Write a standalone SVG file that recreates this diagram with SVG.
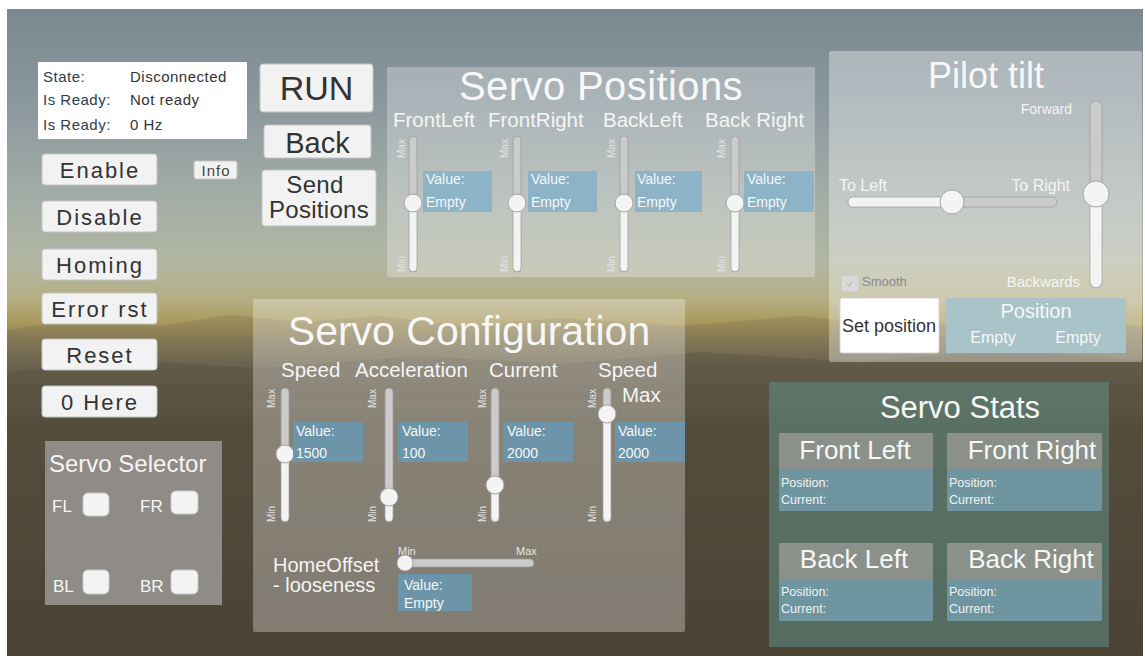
<svg xmlns="http://www.w3.org/2000/svg" width="1145" height="657" viewBox="0 0 1145 657">
<defs>
<linearGradient id="sky" x1="0" y1="0" x2="0" y2="1">
<stop offset="0" stop-color="#7b8891"/>
<stop offset="0.14" stop-color="#8a979c"/>
<stop offset="0.29" stop-color="#a3ada7"/>
<stop offset="0.39" stop-color="#b1b6a2"/>
<stop offset="0.45" stop-color="#b5ae83"/>
<stop offset="0.485" stop-color="#a9985a"/>
<stop offset="0.515" stop-color="#877b56"/>
<stop offset="0.55" stop-color="#6b6350"/>
<stop offset="0.64" stop-color="#554d3c"/>
<stop offset="1" stop-color="#4a4233"/>
</linearGradient>
<style>
text{font-family:"Liberation Sans",Arial,sans-serif}
.btn{fill:#f2f2f2;stroke:#c4c4c4;stroke-width:1}
.bt{fill:#333;font-size:22px;letter-spacing:2px;text-anchor:middle}
.title{fill:#f7f7f7;text-anchor:middle}
.lbl{fill:#f5f5f5;font-size:20.5px}
.val{fill:#f7f7f7;font-size:14px}
.tiny{fill:#e4e4e4;font-size:10px}
.track{fill:#cbcbcb;stroke:#9c9c9c;stroke-width:0.8}
.fillp{fill:#f3f3f3}
.knob{fill:#f4f4f4;stroke:#a5a5a5;stroke-width:1}
.vbox1{fill:#8db4c6}
.vbox2{fill:#6c95a9}
.info{fill:#2c3e50;font-size:15px;letter-spacing:0.5px}
.infov{fill:#333;font-size:15px;letter-spacing:0.5px}
.chk{fill:#f3f3f3;stroke:#c8c8c8;stroke-width:1}
.sel{fill:#f5f5f5;font-size:17px}
.hdr{fill:#8b908a}
.body{fill:#6e95a0}
.st{fill:#f2f2f2;font-size:12.5px}
.sth{fill:#f7f7f7;font-size:26px;text-anchor:middle}
</style>
</defs>

<rect x="0" y="0" width="1145" height="657" fill="#ffffff"/>
<g id="background">
<rect x="7" y="9" width="1136" height="647" fill="url(#sky)"/>
<polygon points="7,330 90,318 160,326 230,315 300,322 380,316 460,326 560,318 680,326 800,316 900,326 1000,318 1143,326 1143,380 7,380" fill="#6b6350" opacity="0.25"/>
<polygon points="7,372 120,360 260,368 420,356 560,364 700,352 860,362 1000,350 1143,360 1143,400 7,400" fill="#4f4838" opacity="0.3"/>
</g>

<g id="status-box">
<rect x="38" y="62" width="209" height="77" fill="#ffffff"/>
<text class="info" x="43" y="82">State:</text>
<text class="infov" x="130" y="82">Disconnected</text>
<text class="info" x="43" y="105">Is Ready:</text>
<text class="infov" x="130" y="105">Not ready</text>
<text class="info" x="43" y="130">Is Ready:</text>
<text class="infov" x="130" y="130">0 Hz</text>
</g>

<g id="btn-run">
<rect class="btn" x="260" y="64" width="113" height="48" rx="3"/>
<text x="316.5" y="100" style="fill:#333;font-size:34px;text-anchor:middle">RUN</text>
</g>
<g id="btn-back">
<rect class="btn" x="264" y="125" width="107" height="33" rx="3"/>
<text x="317.5" y="153" style="fill:#333;font-size:29px;text-anchor:middle">Back</text>
</g>
<g id="btn-send">
<rect class="btn" x="262" y="170" width="114" height="56" rx="3"/>
<text x="315" y="193" style="fill:#333;font-size:24px;letter-spacing:0.3px;text-anchor:middle">Send</text>
<text x="319" y="218" style="fill:#333;font-size:24px;letter-spacing:0.3px;text-anchor:middle">Positions</text>
</g>

<g id="btn-enable">
<rect class="btn" x="42" y="154" width="115" height="31" rx="3"/>
<text class="bt" x="100" y="178">Enable</text>
</g>
<g id="btn-info">
<rect class="btn" x="194" y="161" width="43" height="18" rx="2"/>
<text x="216" y="176" style="fill:#444;font-size:15px;letter-spacing:1px;text-anchor:middle">Info</text>
</g>
<g id="btn-disable">
<rect class="btn" x="42" y="201" width="115" height="31" rx="3"/>
<text class="bt" x="100" y="225">Disable</text>
</g>
<g id="btn-homing">
<rect class="btn" x="42" y="249" width="115" height="31" rx="3"/>
<text class="bt" x="100" y="273">Homing</text>
</g>
<g id="btn-errorrst">
<rect class="btn" x="42" y="293" width="115" height="31" rx="3"/>
<text class="bt" x="100" y="317">Error rst</text>
</g>
<g id="btn-reset">
<rect class="btn" x="42" y="339" width="115" height="31" rx="3"/>
<text class="bt" x="100" y="363">Reset</text>
</g>
<g id="btn-zerohere">
<rect class="btn" x="42" y="386" width="115" height="31" rx="3"/>
<text class="bt" x="100" y="410">0 Here</text>
</g>

<g id="servo-selector">
<rect x="45" y="441" width="177" height="164" fill="#8f8c87"/>
<text x="49" y="472" style="fill:#f5f5f5;font-size:24px">Servo Selector</text>
<text class="sel" x="52" y="512">FL</text>
<rect class="chk" x="83" y="493" width="26" height="23" rx="5"/>
<text class="sel" x="140" y="512">FR</text>
<rect class="chk" x="171" y="491" width="27" height="23" rx="5"/>
<text class="sel" x="53" y="592">BL</text>
<rect class="chk" x="83" y="570" width="26" height="24" rx="5"/>
<text class="sel" x="140" y="592">BR</text>
<rect class="chk" x="171" y="570" width="27" height="24" rx="5"/>
</g>

<g id="servo-positions">
<rect x="387" y="67" width="428" height="210" rx="2" fill="#ffffff" fill-opacity="0.28"/>
<text class="title" x="601" y="100" style="font-size:40px;letter-spacing:0.4px">Servo Positions</text>
<text class="lbl" x="393" y="127">FrontLeft</text>
<text class="lbl" x="488" y="127">FrontRight</text>
<text class="lbl" x="603" y="127">BackLeft</text>
<text class="lbl" x="705" y="127">Back Right</text>
<g id="sp-frontleft">
<rect class="track" x="409" y="136" width="8" height="136" rx="4"/>
<rect class="fillp" x="409.5" y="203" width="7" height="68" rx="3.5"/>
<circle class="knob" cx="413" cy="203" r="9"/>
<text class="tiny" transform="translate(405,158) rotate(-90)">Max</text>
<text class="tiny" transform="translate(405,272) rotate(-90)">Min</text>
<rect class="vbox1" x="423" y="171" width="69" height="41"/>
<text class="val" x="426" y="184">Value:</text>
<text class="val" x="426" y="207">Empty</text>
</g>
<g id="sp-frontright">
<rect class="track" x="513" y="136" width="8" height="136" rx="4"/>
<rect class="fillp" x="513.5" y="203" width="7" height="68" rx="3.5"/>
<circle class="knob" cx="517" cy="203" r="9"/>
<text class="tiny" transform="translate(508,158) rotate(-90)">Max</text>
<text class="tiny" transform="translate(508,272) rotate(-90)">Min</text>
<rect class="vbox1" x="528" y="171" width="69" height="41"/>
<text class="val" x="531" y="184">Value:</text>
<text class="val" x="531" y="207">Empty</text>
</g>
<g id="sp-backleft">
<rect class="track" x="620" y="136" width="8" height="136" rx="4"/>
<rect class="fillp" x="620.5" y="203" width="7" height="68" rx="3.5"/>
<circle class="knob" cx="624" cy="203" r="9"/>
<text class="tiny" transform="translate(615,158) rotate(-90)">Max</text>
<text class="tiny" transform="translate(615,272) rotate(-90)">Min</text>
<rect class="vbox1" x="635" y="171" width="67" height="41"/>
<text class="val" x="637" y="184">Value:</text>
<text class="val" x="637" y="207">Empty</text>
</g>
<g id="sp-backright">
<rect class="track" x="731" y="136" width="8" height="136" rx="4"/>
<rect class="fillp" x="731.5" y="203" width="7" height="68" rx="3.5"/>
<circle class="knob" cx="735" cy="203" r="9"/>
<text class="tiny" transform="translate(725,158) rotate(-90)">Max</text>
<text class="tiny" transform="translate(725,272) rotate(-90)">Min</text>
<rect class="vbox1" x="744" y="171" width="70" height="41"/>
<text class="val" x="747" y="184">Value:</text>
<text class="val" x="747" y="207">Empty</text>
</g>
</g>

<g id="pilot-tilt">
<rect x="829" y="51" width="313" height="311" rx="2" fill="#ffffff" fill-opacity="0.35"/>
<text class="title" x="986" y="88" style="font-size:36px">Pilot tilt</text>
<text x="1072" y="114" style="fill:#f5f5f5;font-size:14px;text-anchor:end">Forward</text>
<rect class="track" x="1090" y="101" width="12" height="187" rx="6"/>
<rect class="fillp" x="1090.5" y="194" width="11" height="93" rx="5.5"/>
<circle class="knob" cx="1096" cy="194" r="13"/>
<text x="839" y="191" style="fill:#f5f5f5;font-size:16px">To Left</text>
<text x="1070" y="191" style="fill:#f5f5f5;font-size:16px;text-anchor:end">To Right</text>
<rect class="track" x="848" y="197" width="209" height="10" rx="5"/>
<rect class="fillp" x="848.5" y="197.5" width="104" height="9" rx="4.5"/>
<circle class="knob" cx="952" cy="202" r="12"/>
<rect x="841" y="275" width="18" height="17" rx="3" fill="#d9dad8" stroke="#c3c3c3" stroke-width="0.8"/>
<path d="M847 284 l2 2 l3 -4" fill="none" stroke="#9a9a9a" stroke-width="0.8"/>
<text x="862" y="286" style="fill:#8a8a8a;font-size:13px">Smooth</text>
<text x="1080" y="287" style="fill:#f5f5f5;font-size:15px;text-anchor:end">Backwards</text>
<rect x="840" y="298" width="99" height="55" rx="2" fill="#ffffff" stroke="#d0d0d0" stroke-width="0.8"/>
<text x="889" y="332" style="fill:#333;font-size:18px;text-anchor:middle">Set position</text>
<rect x="946" y="298" width="180" height="55" fill="#a8c4c9"/>
<text x="1036" y="318" style="fill:#f7f7f7;font-size:20px;text-anchor:middle">Position</text>
<text x="993" y="343" style="fill:#f7f7f7;font-size:16px;text-anchor:middle">Empty</text>
<text x="1078" y="343" style="fill:#f7f7f7;font-size:16px;text-anchor:middle">Empty</text>
</g>

<g id="servo-configuration">
<rect x="253" y="299" width="432" height="333" rx="2" fill="#ffffff" fill-opacity="0.3"/>
<text class="title" x="469" y="345" style="font-size:41px">Servo Configuration</text>
<text class="lbl" x="281" y="377">Speed</text>
<text class="lbl" x="355" y="377">Acceleration</text>
<text class="lbl" x="489" y="377">Current</text>
<text class="lbl" x="598" y="377">Speed</text>
<text class="lbl" x="622" y="402">Max</text>
<g id="sc-speed">
<rect class="track" x="281" y="388" width="8" height="134" rx="4"/>
<rect class="fillp" x="281.5" y="454" width="7" height="67" rx="3.5"/>
<circle class="knob" cx="285" cy="454" r="9"/>
<text class="tiny" transform="translate(275,408) rotate(-90)">Max</text>
<text class="tiny" transform="translate(275,522) rotate(-90)">Min</text>
<rect class="vbox2" x="293" y="422" width="70" height="40"/>
<text class="val" x="296" y="436">Value:</text>
<text class="val" x="296" y="458">1500</text>
</g>
<g id="sc-acceleration">
<rect class="track" x="385" y="388" width="8" height="134" rx="4"/>
<rect class="fillp" x="385.5" y="497" width="7" height="24" rx="3.5"/>
<circle class="knob" cx="389" cy="497" r="9"/>
<text class="tiny" transform="translate(376,408) rotate(-90)">Max</text>
<text class="tiny" transform="translate(376,522) rotate(-90)">Min</text>
<rect class="vbox2" x="398" y="422" width="70" height="40"/>
<text class="val" x="402" y="436">Value:</text>
<text class="val" x="402" y="458">100</text>
</g>
<g id="sc-current">
<rect class="track" x="491" y="388" width="8" height="134" rx="4"/>
<rect class="fillp" x="491.5" y="485" width="7" height="36" rx="3.5"/>
<circle class="knob" cx="495" cy="485" r="9"/>
<text class="tiny" transform="translate(486,408) rotate(-90)">Max</text>
<text class="tiny" transform="translate(486,522) rotate(-90)">Min</text>
<rect class="vbox2" x="503" y="422" width="70" height="40"/>
<text class="val" x="507" y="436">Value:</text>
<text class="val" x="507" y="458">2000</text>
</g>
<g id="sc-speedmax">
<rect class="track" x="603" y="388" width="8" height="134" rx="4"/>
<rect class="fillp" x="603.5" y="414" width="7" height="107" rx="3.5"/>
<circle class="knob" cx="607" cy="414" r="9"/>
<text class="tiny" transform="translate(596,408) rotate(-90)">Max</text>
<text class="tiny" transform="translate(596,522) rotate(-90)">Min</text>
<rect class="vbox2" x="615" y="422" width="70" height="40"/>
<text class="val" x="618" y="436">Value:</text>
<text class="val" x="618" y="458">2000</text>
</g>
<g id="sc-homeoffset">
<text x="273" y="572" style="fill:#f5f5f5;font-size:20px">HomeOffset</text>
<text x="273" y="592" style="fill:#f5f5f5;font-size:20px">- looseness</text>
<text x="398" y="555" style="fill:#e8e8e8;font-size:11px">Min</text>
<text x="516" y="555" style="fill:#e8e8e8;font-size:11px">Max</text>
<rect class="track" x="400" y="559" width="134" height="8" rx="4"/>
<circle class="knob" cx="405" cy="563" r="8"/>
<rect class="vbox2" x="398" y="574" width="74" height="37"/>
<text class="val" x="404" y="590">Value:</text>
<text class="val" x="404" y="608">Empty</text>
</g>
</g>

<g id="servo-stats">
<rect x="769" y="382" width="340" height="265" fill="#5f8e86" fill-opacity="0.55"/>
<text class="title" x="960" y="418" style="font-size:31px">Servo Stats</text>
<g id="stat-frontleft">
<rect class="hdr" x="779" y="433" width="154" height="36" rx="1"/>
<rect class="body" x="779" y="469" width="154" height="42" rx="1"/>
<text class="sth" x="855" y="459">Front Left</text>
<text class="st" x="781" y="487">Position:</text>
<text class="st" x="781" y="504">Current:</text>
</g>
<g id="stat-frontright">
<rect class="hdr" x="947" y="433" width="155" height="36" rx="1"/>
<rect class="body" x="947" y="469" width="155" height="42" rx="1"/>
<text class="sth" x="1032" y="459">Front Right</text>
<text class="st" x="949" y="487">Position:</text>
<text class="st" x="949" y="504">Current:</text>
</g>
<g id="stat-backleft">
<rect class="hdr" x="779" y="543" width="154" height="36" rx="1"/>
<rect class="body" x="779" y="579" width="154" height="42" rx="1"/>
<text class="sth" x="854" y="568">Back Left</text>
<text class="st" x="781" y="596">Position:</text>
<text class="st" x="781" y="613">Current:</text>
</g>
<g id="stat-backright">
<rect class="hdr" x="947" y="543" width="155" height="36" rx="1"/>
<rect class="body" x="947" y="579" width="155" height="42" rx="1"/>
<text class="sth" x="1031" y="568">Back Right</text>
<text class="st" x="949" y="596">Position:</text>
<text class="st" x="949" y="613">Current:</text>
</g>
</g>

<g id="connectors"></g>
</svg>
